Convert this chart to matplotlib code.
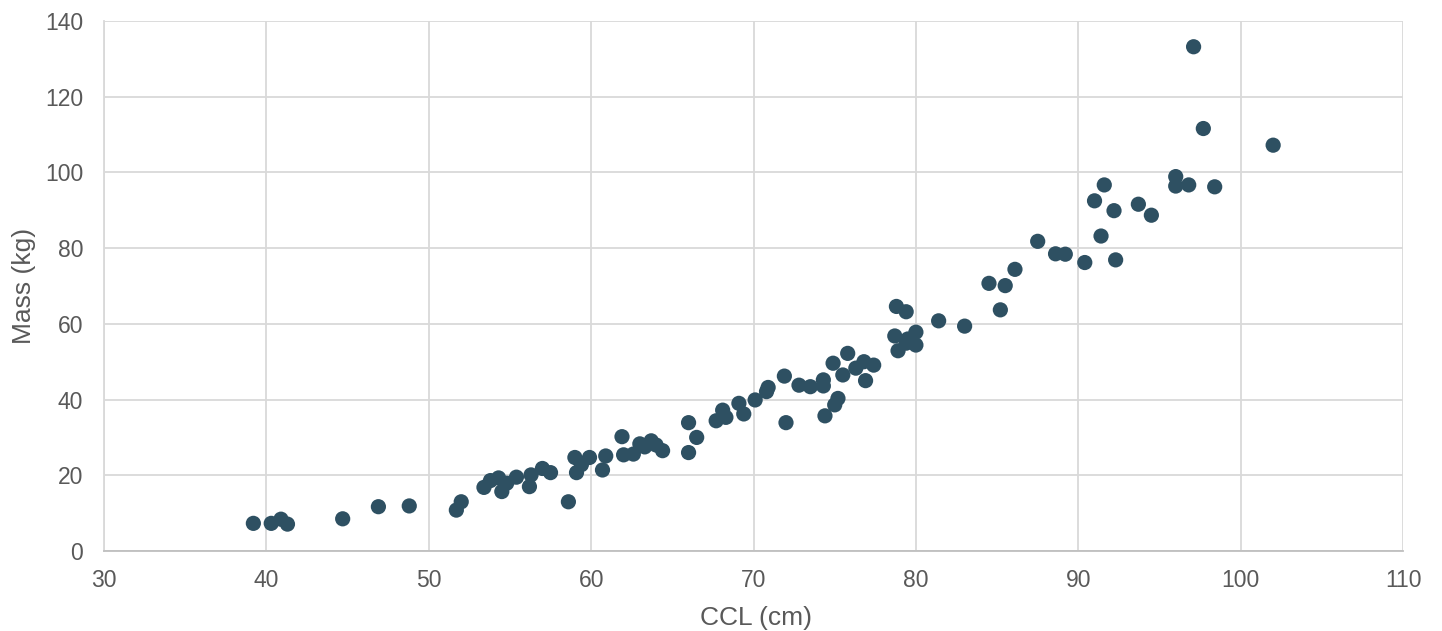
import matplotlib
matplotlib.use("Agg")
import matplotlib.pyplot as plt

# CCL (cm) and mass (kg)
ccl = [39.2, 40.3, 40.9, 41.3, 44.7, 46.9, 48.8, 51.7, 52.0,
       53.4, 53.8, 54.3, 54.5, 54.8, 55.4, 56.2, 56.3, 57.0, 57.5,
       58.6, 59.0, 59.1, 59.4, 59.9, 60.7, 60.9, 61.9, 62.0, 62.6,
       63.0, 63.3, 63.7, 64.0, 64.4, 66.0, 66.0, 66.5, 67.7, 68.1,
       68.3, 69.1, 69.4, 70.1, 70.8, 70.9, 71.9, 72.0, 72.8, 73.5,
       74.3, 74.3, 74.4, 74.9, 75.0, 75.2, 75.5, 75.8, 76.3, 76.8,
       76.9, 77.4, 78.7, 78.8, 78.9, 79.4, 79.5, 79.4, 80.0, 80.0,
       81.4, 83.0, 84.5, 85.2, 85.5, 86.1, 87.5, 88.6, 89.2, 90.4,
       91.0, 91.4, 91.6, 92.2, 92.3, 93.7, 94.5, 96.0, 96.0, 96.8,
       97.1, 97.7, 98.4, 102.0]
mass = [7.3, 7.3, 8.4, 7.1, 8.5, 11.7, 11.9, 10.8, 13.0,
        16.8, 18.6, 19.3, 15.7, 17.9, 19.5, 17.0, 20.1, 21.8, 20.7,
        13.0, 24.7, 20.7, 22.8, 24.7, 21.4, 25.1, 30.2, 25.4, 25.6,
        28.3, 27.5, 29.1, 28.0, 26.5, 33.9, 26.0, 30.0, 34.4, 37.2,
        35.3, 39.0, 36.2, 39.9, 42.1, 43.2, 46.2, 33.9, 43.8, 43.4,
        45.2, 43.6, 35.7, 49.6, 38.6, 40.3, 46.5, 52.2, 48.3, 50.0,
        45.0, 49.1, 56.8, 64.6, 52.9, 63.2, 56.0, 54.9, 57.8, 54.4,
        60.8, 59.4, 70.7, 63.7, 70.1, 74.4, 81.8, 78.5, 78.4, 76.2,
        92.5, 83.2, 96.7, 89.9, 76.9, 91.6, 88.7, 98.9, 96.4, 96.7,
        133.2, 111.6, 96.2, 107.2]

x_ticks = list(range(30, 111, 10))
y_ticks = list(range(0, 141, 20))

plt.rcParams['font.family'] = ['Liberation Sans', 'DejaVu Sans']

fig = plt.figure(figsize=(14.42, 6.31), dpi=100)
ax = fig.add_axes([0.0721, 0.1268, 0.9009, 0.8399])

ax.scatter(ccl, mass, s=120, color='#2E5062', edgecolors='none', zorder=3)

ax.set_xlim(30, 110)
ax.set_ylim(0, 140)
ax.set_xticks(x_ticks)
ax.set_yticks(y_ticks)
ax.grid(True, color='#D9D9D9', linewidth=1.3, zorder=0)
ax.tick_params(length=0, labelsize=16.5, colors='#595959')
ax.tick_params(axis='x', pad=13)
ax.tick_params(axis='y', pad=15)

for side in ['top', 'right']:
    ax.spines[side].set_visible(False)
ax.spines['left'].set_color('#D9D9D9')
ax.spines['left'].set_linewidth(1.3)
ax.spines['bottom'].set_color('#BFBFBF')
ax.spines['bottom'].set_linewidth(1.3)

ax.set_xlabel('CCL (cm)', fontsize=19, color='#595959')
ax.set_ylabel('Mass (kg)', fontsize=19, color='#595959')
ax.xaxis.set_label_coords(0.502, -0.103)
ax.yaxis.set_label_coords(-0.052, 0.5)

fig.savefig('out.png', dpi=100)
